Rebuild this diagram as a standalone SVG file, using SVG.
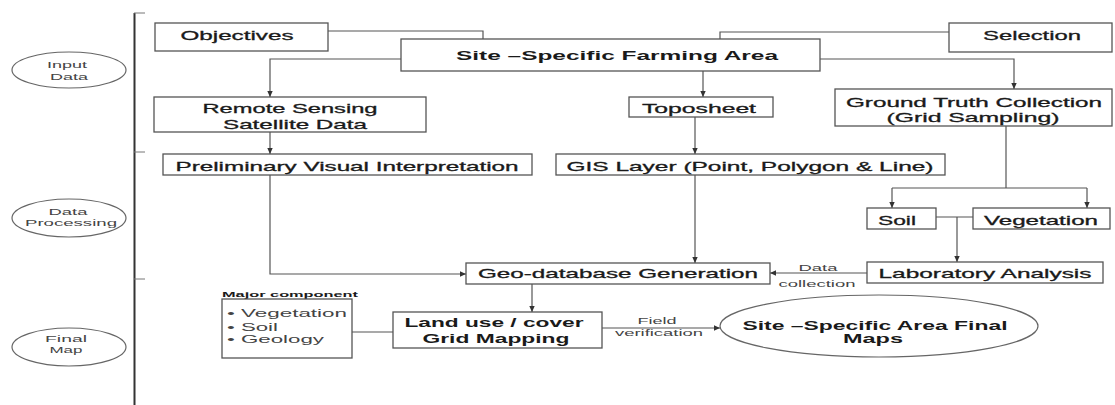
<svg xmlns="http://www.w3.org/2000/svg" width="1115" height="405" viewBox="0 0 1115 405">
<style>
.box{fill:#fff;stroke:#555;stroke-width:1.3}
.ell{fill:#fff;stroke:#666;stroke-width:1.2}
.ln{fill:none;stroke:#555;stroke-width:1.2}
.t{font-family:"Liberation Sans",Arial,sans-serif;font-size:13px;fill:#1a1a1a;stroke:#1a1a1a;stroke-width:0.3;text-anchor:middle}
.b{font-weight:bold;stroke-width:0}
.s{font-size:9px;fill:#444;stroke-width:0}
.m{font-size:10px;fill:#444;stroke-width:0;text-anchor:start}
</style>
<defs>
<marker id="ar" markerUnits="userSpaceOnUse" markerWidth="7" markerHeight="7" refX="6" refY="3.5" orient="auto">
<path d="M0,0.8 L6,3.5 L0,6.2 Z" fill="#333"/>
</marker>
</defs>
<rect width="1115" height="405" fill="#fff"/>
<g id="axis">
<line x1="134.5" y1="13" x2="134.5" y2="405" stroke="#333" stroke-width="2"/>
<line x1="134" y1="13" x2="145" y2="13" stroke="#777" stroke-width="1"/>
<line x1="134" y1="152" x2="145" y2="152" stroke="#777" stroke-width="1"/>
<line x1="134" y1="279" x2="145" y2="279" stroke="#777" stroke-width="1"/>
</g>
<g id="stage-input">
<ellipse class="ell" cx="69" cy="70" rx="57" ry="18"/>
<text class="t s" x="67" y="68" textLength="40" lengthAdjust="spacingAndGlyphs">Input</text>
<text class="t s" x="69" y="80" textLength="38" lengthAdjust="spacingAndGlyphs">Data</text>
</g>
<g id="stage-processing">
<ellipse class="ell" cx="69" cy="218" rx="57" ry="19"/>
<text class="t s" x="68" y="215" textLength="39" lengthAdjust="spacingAndGlyphs">Data</text>
<text class="t s" x="71" y="226" textLength="92" lengthAdjust="spacingAndGlyphs">Processing</text>
</g>
<g id="stage-final">
<ellipse class="ell" cx="69" cy="347" rx="57" ry="19"/>
<text class="t s" x="66" y="342" textLength="42" lengthAdjust="spacingAndGlyphs">Final</text>
<text class="t s" x="66" y="353" textLength="33" lengthAdjust="spacingAndGlyphs">Map</text>
</g>
<g id="connectors">
<polyline class="ln" points="328,31 483,31 483,39"/>
<polyline class="ln" points="949,32 720,32 720,39"/>
<polyline class="ln" points="401,59 270,59 270,97" marker-end="url(#ar)"/>
<line class="ln" x1="703" y1="71" x2="703" y2="97" marker-end="url(#ar)"/>
<polyline class="ln" points="820,59 1014,59 1014,89" marker-end="url(#ar)"/>
<line class="ln" x1="270" y1="132" x2="270" y2="154" marker-end="url(#ar)"/>
<line class="ln" x1="695" y1="117" x2="695" y2="154" marker-end="url(#ar)"/>
<polyline class="ln" points="270,175 270,274 466,274" marker-end="url(#ar)"/>
<line class="ln" x1="695" y1="175" x2="695" y2="263" marker-end="url(#ar)"/>
<line class="ln" x1="1006" y1="126" x2="1006" y2="188"/>
<polyline class="ln" points="892,188 892,208" marker-end="url(#ar)"/>
<line class="ln" x1="892" y1="188" x2="1087" y2="188"/>
<polyline class="ln" points="1087,188 1087,208" marker-end="url(#ar)"/>
<line class="ln" x1="936" y1="217" x2="973" y2="217"/>
<line class="ln" x1="957" y1="217" x2="957" y2="262" marker-end="url(#ar)"/>
<line class="ln" x1="867" y1="273" x2="770" y2="273" marker-end="url(#ar)"/>
<line class="ln" x1="532" y1="284" x2="532" y2="312" marker-end="url(#ar)"/>
<line class="ln" x1="352" y1="332" x2="393" y2="332"/>
<line class="ln" x1="602" y1="328" x2="720" y2="328" marker-end="url(#ar)"/>
<text class="t s" x="818" y="271" textLength="39" lengthAdjust="spacingAndGlyphs">Data</text>
<text class="t s" x="817" y="287" textLength="77" lengthAdjust="spacingAndGlyphs">collection</text>
<text class="t s" x="657" y="324" textLength="39" lengthAdjust="spacingAndGlyphs">Field</text>
<text class="t s" x="659" y="336" textLength="88" lengthAdjust="spacingAndGlyphs">verification</text>
</g>
<g id="objectives">
<rect class="box" x="155" y="23" width="173" height="28"/>
<text class="t" x="237" y="40" textLength="113" lengthAdjust="spacingAndGlyphs">Objectives</text>
</g>
<g id="site-area">
<rect class="box" x="401" y="39" width="419" height="32"/>
<text class="t b" x="617" y="60" textLength="322" lengthAdjust="spacingAndGlyphs">Site –Specific Farming Area</text>
</g>
<g id="selection">
<rect class="box" x="949" y="23" width="163" height="29"/>
<text class="t" x="1032" y="40" textLength="98" lengthAdjust="spacingAndGlyphs">Selection</text>
</g>
<g id="remote-sensing">
<rect class="box" x="154" y="97" width="272" height="35"/>
<text class="t" x="290" y="113" textLength="175" lengthAdjust="spacingAndGlyphs">Remote Sensing</text>
<text class="t" x="295" y="129" textLength="144" lengthAdjust="spacingAndGlyphs">Satellite Data</text>
</g>
<g id="toposheet">
<rect class="box" x="629" y="97" width="144" height="20"/>
<text class="t" x="699" y="113" textLength="114" lengthAdjust="spacingAndGlyphs">Toposheet</text>
</g>
<g id="ground-truth">
<rect class="box" x="835" y="89" width="277" height="37"/>
<text class="t" x="974" y="107" textLength="256" lengthAdjust="spacingAndGlyphs">Ground Truth Collection</text>
<text class="t" x="973" y="122" textLength="173" lengthAdjust="spacingAndGlyphs">(Grid Sampling)</text>
</g>
<g id="preliminary">
<rect class="box" x="163" y="154" width="369" height="21"/>
<text class="t" x="347" y="171" textLength="343" lengthAdjust="spacingAndGlyphs">Preliminary Visual Interpretation</text>
</g>
<g id="gis-layer">
<rect class="box" x="556" y="154" width="389" height="21"/>
<text class="t" x="750" y="171" textLength="367" lengthAdjust="spacingAndGlyphs">GIS Layer (Point, Polygon &amp; Line)</text>
</g>
<g id="soil">
<rect class="box" x="867" y="208" width="69" height="21"/>
<text class="t" x="897" y="225" textLength="38" lengthAdjust="spacingAndGlyphs">Soil</text>
</g>
<g id="vegetation">
<rect class="box" x="973" y="208" width="137" height="21"/>
<text class="t" x="1041" y="225" textLength="114" lengthAdjust="spacingAndGlyphs">Vegetation</text>
</g>
<g id="lab-analysis">
<rect class="box" x="867" y="262" width="236" height="21"/>
<text class="t" x="985" y="278" textLength="213" lengthAdjust="spacingAndGlyphs">Laboratory Analysis</text>
</g>
<g id="geo-database">
<rect class="box" x="466" y="263" width="304" height="21"/>
<text class="t" x="618" y="278" textLength="280" lengthAdjust="spacingAndGlyphs">Geo-database Generation</text>
</g>
<g id="major-component">
<text class="t b" x="290" y="297" style="font-size:8px" textLength="136" lengthAdjust="spacingAndGlyphs">Major component</text>
<rect class="box" x="222" y="299" width="130" height="59"/>
<text class="t m" x="227" y="317" textLength="120" lengthAdjust="spacingAndGlyphs">• Vegetation</text>
<text class="t m" x="227" y="331" textLength="51" lengthAdjust="spacingAndGlyphs">• Soil</text>
<text class="t m" x="227" y="343" textLength="97" lengthAdjust="spacingAndGlyphs">• Geology</text>
</g>
<g id="land-use">
<rect class="box" x="393" y="312" width="209" height="36"/>
<text class="t b" x="494" y="327" textLength="179" lengthAdjust="spacingAndGlyphs">Land use / cover</text>
<text class="t b" x="496" y="343" textLength="147" lengthAdjust="spacingAndGlyphs">Grid Mapping</text>
</g>
<g id="final-maps">
<ellipse class="ell" cx="879" cy="326" rx="159" ry="31"/>
<text class="t b" x="875" y="330" textLength="265" lengthAdjust="spacingAndGlyphs">Site –Specific Area Final</text>
<text class="t b" x="873" y="343" textLength="60" lengthAdjust="spacingAndGlyphs">Maps</text>
</g>
</svg>
